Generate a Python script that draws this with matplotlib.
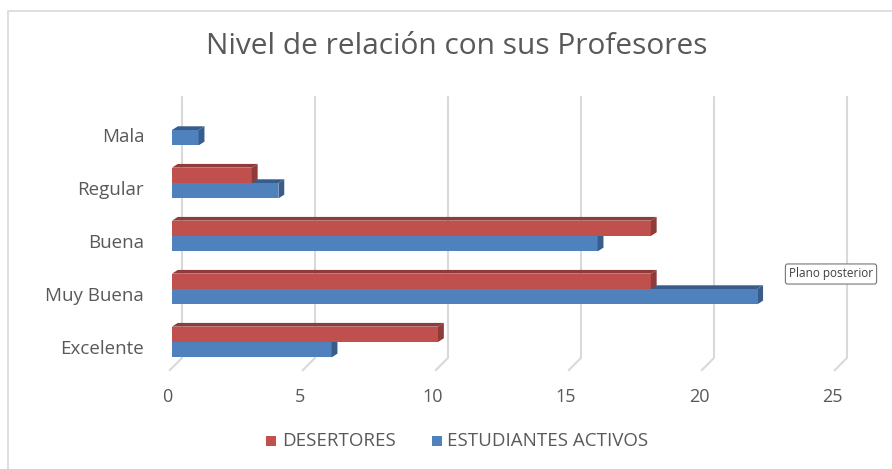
import numpy as np
import matplotlib.pyplot as plt
import matplotlib.transforms as mtransforms
from matplotlib.patches import Polygon, Rectangle

categories = ['Excelente', 'Muy Buena', 'Buena', 'Regular', 'Mala']
desertores = [10, 18, 18, 3, 0]
activos = [6, 22, 16, 4, 1]
xticks = [0, 5, 10, 15, 20, 25]

RED = '#C0504D'
RED_DARK = '#8E3B39'
BLUE = '#4F81BD'
BLUE_DARK = '#385D8A'
TXT = '#595959'

plt.rcParams['font.family'] = ['Open Sans', 'DejaVu Sans']

W, H = 892, 469
fig = plt.figure(figsize=(W / 100, H / 100), dpi=100)

# chart border
fig.patches.append(Rectangle((8 / W, -0.05), 1.2, 1 - 11 / H + 0.05, transform=fig.transFigure,
                             fill=False, edgecolor='#D9D9D9', linewidth=1.2))

# axes placed so x=0 sits at px 172 and 26.6 px per unit, categories 53 px apart
x0px, ppu = 172, 26.6
xmax = 26.5
ylo, yhi = -0.55, 4.65
y0px, ppc = 342, 53
top_px = y0px - yhi * ppc
bot_px = y0px - ylo * ppc
ax = fig.add_axes([x0px / W, (H - bot_px) / H, xmax * ppu / W, (bot_px - top_px) / H])
ax.set_xlim(0, xmax)
ax.set_ylim(ylo, yhi)
for s in ax.spines.values():
    s.set_visible(False)

# back-wall gridlines with floor slant
gx = 10 / ppu
for t in xticks:
    ax.plot([t + gx, t + gx, t - 0.08], [yhi - 0.03, -0.30, -0.53], color='#D9D9D9', lw=1.5,
            zorder=0, clip_on=False, solid_joinstyle='miter')

bh = 0.29
dx, dy = 0.22, 0.07


def bar3d(x, yc, color, dark):
    if x <= 0:
        return
    yb, yt = yc - bh / 2, yc + bh / 2
    ax.add_patch(Rectangle((0, yb), x, bh, facecolor=color, edgecolor='none', zorder=3))
    ax.add_patch(Polygon([(0, yt), (dx, yt + dy), (x + dx, yt + dy), (x, yt)],
                         facecolor=dark, edgecolor='none', zorder=3))
    ax.add_patch(Polygon([(x, yb), (x, yt), (x + dx, yt + dy), (x + dx, yb + dy)],
                         facecolor=dark, edgecolor='none', zorder=3))


ypos = np.arange(len(categories))
for i in ypos:
    bar3d(activos[i], i - bh / 2, BLUE, BLUE_DARK)
    bar3d(desertores[i], i + bh / 2, RED, RED_DARK)

ax.set_yticks(ypos)
ax.set_yticklabels(categories, fontsize=13.5, color=TXT)
ax.set_xticks(xticks)
ax.set_xticklabels([str(t) for t in xticks], fontsize=13, color=TXT)
ax.tick_params(axis='y', length=0, pad=20)
ax.tick_params(axis='x', length=0, pad=12)

# labels sit a bit lower / left than the bar fronts (3D depth)
for lab in ax.get_yticklabels():
    lab.set_transform(lab.get_transform() + mtransforms.ScaledTranslation(0, -5 / 100, fig.dpi_scale_trans))
for lab in ax.get_xticklabels():
    lab.set_transform(lab.get_transform() + mtransforms.ScaledTranslation(-5 / 100, 0, fig.dpi_scale_trans))

fig.text(457 / W, 1 - 47 / H, 'Nivel de relación con sus Profesores', ha='center', va='center',
         fontsize=21.5, color=TXT)

# legend
ly = 1 - 441 / H
fig.patches.append(Rectangle((266 / W, ly - 5 / H), 10 / W, 10 / H, transform=fig.transFigure,
                             facecolor=RED, edgecolor='none'))
fig.text(282 / W, ly, 'DESERTORES', ha='left', va='center', fontsize=13.5, color=TXT)
fig.patches.append(Rectangle((432 / W, ly - 5 / H), 10 / W, 10 / H, transform=fig.transFigure,
                             facecolor=BLUE, edgecolor='none'))
fig.text(447 / W, ly, 'ESTUDIANTES ACTIVOS', ha='left', va='center', fontsize=13.5, color=TXT)

# tooltip
fig.text(831 / W, 1 - 274 / H, 'Plano posterior', ha='center', va='center', fontsize=8.5,
         color='#404040',
         bbox=dict(boxstyle='round,pad=0.3,rounding_size=0.2', facecolor='white',
                   edgecolor='#767676', linewidth=0.8))

fig.savefig('out.png', dpi=100)
